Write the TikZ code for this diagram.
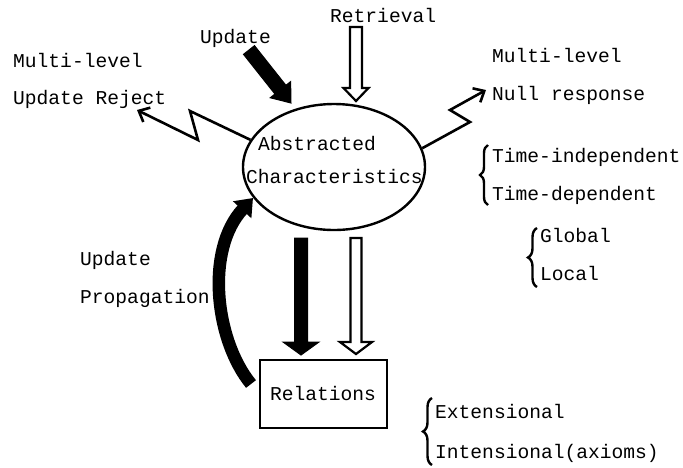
\documentclass[tikz,border=0pt]{standalone}
\usepackage{fontspec}
\setmainfont{Liberation Mono}
\usetikzlibrary{arrows.meta,calc,decorations.pathreplacing,shapes.geometric}
\newcommand\blockarr[7]{%
  \coordinate (#1-b) at ($(#3)!#6!(#2)$);
  \draw[#7] ($(#2)!#4!90:(#3)$) -- ($(#1-b)!#4!90:(#3)$) -- ($(#1-b)!#5!90:(#3)$) -- (#3)
    -- ($(#1-b)!#5!-90:(#3)$) -- ($(#1-b)!#4!-90:(#3)$) -- ($(#2)!#4!-90:(#3)$) -- cycle;}
\tikzset{
  lbl/.style={anchor=base west, inner sep=0pt, font=\fontsize{19.6}{22}\selectfont},
  hollow/.style={draw=black, fill=white, line width=2.2pt, line join=miter},
  solid/.style={draw=black, fill=black, line width=1pt, line join=miter},
  zig/.style={line width=2.6pt, line join=miter, -{Straight Barb[length=9pt,width=16pt,line width=2.6pt]}},
  brc/.style={line width=2.4pt, decorate, decoration={brace, amplitude=#1}},
}
\begin{document}
\begin{tikzpicture}[x=1pt,y=-1pt]
\useasboundingbox (0,0) rectangle (683,467);
% main shapes
\node[draw, ellipse, line width=2.4pt, minimum width=182pt, minimum height=126pt, inner sep=0pt] (ac) at (334,167) {};
\node[lbl] (abs) at (258,150) {Abstracted};
\node[lbl] (chr) at (246,183) {Characteristics};
\node[draw, line width=2pt, minimum width=127pt, minimum height=68pt, inner sep=0pt] (rel) at (323,394) {};
\node[lbl, anchor=base] (reltxt) at (323,400) {Relations};
% labels
\node[lbl] (retr) at (330,22) {Retrieval};
\node[lbl] (upd) at (200,43) {Update};
\node[lbl] (mlL) at (13,67) {Multi-level};
\node[lbl] (urej) at (13,104) {Update Reject};
\node[lbl] (mlR) at (492,62) {Multi-level};
\node[lbl] (nullr) at (492,100) {Null response};
\node[lbl] (tind) at (492,162) {Time-independent};
\node[lbl] (tdep) at (492,200) {Time-dependent};
\node[lbl] (glob) at (540,242) {Global};
\node[lbl] (loc) at (540,280) {Local};
\node[lbl] (ext) at (435,418) {Extensional};
\node[lbl] (int) at (435,458) {Intensional(axioms)};
\node[lbl] (upd2) at (80,265) {Update};
\node[lbl] (prop) at (80,303) {Propagation};
% coordinates for block arrows
\coordinate (rT) at (356,27);  \coordinate (rP) at (356,101);
\coordinate (uT) at (249,50);  \coordinate (uP) at (291,103);
\coordinate (dT) at (301,238); \coordinate (dP) at (301,355);
\coordinate (hT) at (356,238); \coordinate (hP) at (356,354);
\blockarr{ra}{rT}{rP}{6pt}{12.5pt}{13pt}{hollow}
\blockarr{ua}{uT}{uP}{7pt}{13pt}{17pt}{solid}
\blockarr{da}{dT}{dP}{6.5pt}{18pt}{13pt}{solid}
\blockarr{ha}{hT}{hP}{5.5pt}{16pt}{12pt}{hollow}
% update propagation curved arrow
\coordinate (cpT) at (251,384);
\coordinate (cpP) at (253,198);
\draw[line width=12.5pt, -{Triangle[length=16pt,width=24pt]}] (cpT) .. controls (215,340) and (205,250) .. (cpP);
% zigzag connectors
\coordinate (zl1) at (198,140); \coordinate (zl2) at (190,111); \coordinate (zlE) at (137,110);
\draw[zig] (ac.162) -- (zl2) -- (zl1) -- (zlE);
\coordinate (zr1) at (470,122); \coordinate (zr2) at (450,110); \coordinate (zrE) at (486,90);
\draw[zig] (ac.12) -- (zr1) -- (zr2) -- (zrE);
% braces
\draw[brc=8pt] (488,205) -- (488,145);
\draw[brc=9pt] (537,287) -- (537,228);
\draw[brc=9pt] (432,465) -- (432,398);
\end{tikzpicture}
\end{document}
